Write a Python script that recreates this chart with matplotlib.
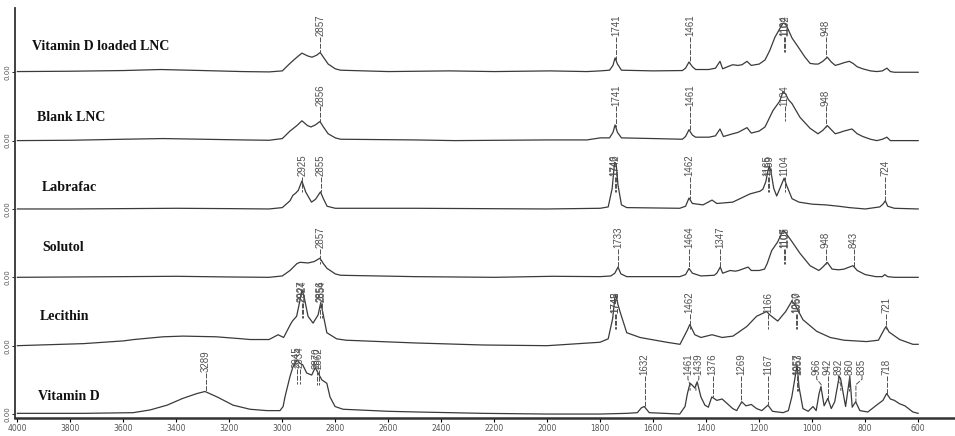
import numpy as np
import matplotlib.pyplot as plt

# FTIR spectra (wavenumber cm-1, absorbance above own baseline)
names = ["Vitamin D loaded LNC", "Blank LNC", "Labrafac", "Solutol", "Lecithin", "Vitamin D"]

vdlnc_wn = [4000, 3800, 3600, 3460, 3300, 3150, 3050, 3000, 2971, 2945, 2926, 2905, 2888, 2870, 2857,
            2845, 2827, 2800, 2780, 2600, 2370, 2200, 1990, 1850, 1800, 1765, 1752, 1744, 1735, 1720,
            1600, 1490, 1478, 1465, 1452, 1440, 1390, 1365, 1348, 1338, 1320, 1300, 1280, 1265, 1246,
            1230, 1200, 1178, 1160, 1141, 1122, 1110, 1100, 1090, 1076, 1053, 1027, 1008, 990, 977,
            960, 943, 928, 913, 895, 880, 860, 846, 830, 809, 780, 756, 735, 718, 705, 690, 600]
vdlnc_abs = [0.01, 0.015, 0.025, 0.04, 0.025, 0.01, 0.005, 0.02, 0.13, 0.22, 0.28, 0.24, 0.22, 0.25, 0.29,
             0.22, 0.12, 0.05, 0.03, 0.01, 0.02, 0.01, 0.02, 0.01, 0.02, 0.03, 0.1, 0.21, 0.12, 0.03,
             0.02, 0.025, 0.06, 0.15, 0.08, 0.04, 0.04, 0.06, 0.16, 0.05, 0.08, 0.11, 0.1, 0.11, 0.16,
             0.1, 0.12, 0.18, 0.32, 0.51, 0.64, 0.72, 0.7, 0.62, 0.5, 0.37, 0.22, 0.13, 0.12, 0.12,
             0.16, 0.22, 0.15, 0.1, 0.12, 0.14, 0.16, 0.13, 0.08, 0.05, 0.02, 0.01, 0.02, 0.06, 0.01, 0.0, 0.0]
vdlnc_peaks = [2857, 1741, 1461, 1106, 1101, 948]
vdlnc_labels = ["2857", "1741", "1461", "1104", "1102", "948"]

blank_wn = [4000, 3800, 3600, 3450, 3300, 3150, 3050, 3000, 2971, 2945, 2926, 2905, 2892, 2875, 2858,
            2845, 2827, 2800, 2780, 2500, 2350, 2000, 1850, 1800, 1765, 1752, 1744, 1735, 1720, 1600,
            1490, 1478, 1465, 1452, 1440, 1390, 1365, 1348, 1335, 1300, 1280, 1246, 1230, 1200, 1178,
            1148, 1122, 1110, 1100, 1090, 1076, 1046, 1008, 978, 960, 943, 913, 895, 880, 850, 830,
            809, 780, 756, 735, 718, 705, 600]
blank_abs = [0.0, 0.005, 0.02, 0.03, 0.02, 0.01, 0.005, 0.03, 0.14, 0.22, 0.29, 0.22, 0.2, 0.23, 0.28,
             0.2, 0.1, 0.04, 0.02, 0.01, 0.0, 0.01, 0.01, 0.04, 0.04, 0.12, 0.23, 0.12, 0.04, 0.03,
             0.02, 0.06, 0.16, 0.08, 0.05, 0.05, 0.07, 0.17, 0.06, 0.1, 0.12, 0.19, 0.11, 0.14, 0.2,
             0.44, 0.58, 0.72, 0.68, 0.6, 0.54, 0.34, 0.18, 0.1, 0.15, 0.22, 0.1, 0.12, 0.14, 0.17, 0.1,
             0.06, 0.02, 0.0, 0.02, 0.05, 0.0, 0.0]
blank_peaks = [2856, 1741, 1461, 1104, 948]
blank_labels = ["2856", "1741", "1461", "1104", "948"]

labra_wn = [4000, 3800, 3600, 3400, 3200, 3050, 3000, 2971, 2960, 2950, 2940, 2926, 2912, 2890, 2875,
            2856, 2845, 2831, 2800, 2500, 2000, 1800, 1770, 1755, 1746, 1740, 1733, 1720, 1700, 1500,
            1478, 1465, 1452, 1412, 1378, 1360, 1300, 1235, 1197, 1186, 1175, 1167, 1162, 1156, 1145,
            1134, 1122, 1106, 1095, 1076, 1050, 1000, 950, 900, 860, 800, 745, 733, 724, 715, 690, 600]
labra_abs = [0.0, 0.0, 0.005, 0.01, 0.005, 0.0, 0.02, 0.12, 0.2, 0.23, 0.27, 0.41, 0.25, 0.1, 0.14,
             0.25, 0.15, 0.04, 0.01, 0.01, 0.0, 0.01, 0.03, 0.3, 0.68, 0.66, 0.35, 0.06, 0.02, 0.01,
             0.04, 0.16, 0.08, 0.06, 0.13, 0.08, 0.1, 0.22, 0.26, 0.29, 0.4, 0.56, 0.63, 0.55, 0.3,
             0.19, 0.3, 0.45, 0.33, 0.15, 0.1, 0.07, 0.06, 0.04, 0.02, 0.0, 0.03, 0.07, 0.12, 0.04, 0.01, 0.0]
labra_peaks = [2925, 2855, 1746, 1742, 1462, 1168, 1162, 1104, 724]
labra_labels = ["2925", "2855", "1746", "1742", "1462", "1165", "1159", "1104", "724"]

solu_wn = [4000, 3800, 3600, 3400, 3200, 3050, 3000, 2971, 2945, 2933, 2903, 2880, 2858, 2845, 2831,
           2800, 2780, 2500, 2200, 1980, 1800, 1760, 1745, 1733, 1722, 1700, 1500, 1478, 1465, 1452,
           1420, 1370, 1360, 1347, 1338, 1310, 1290, 1278, 1242, 1230, 1200, 1180, 1170, 1153, 1130,
           1110, 1100, 1076, 1046, 1008, 975, 960, 943, 925, 900, 880, 860, 846, 830, 800, 760, 735,
           726, 715, 690, 600]
solu_abs = [0.0, 0.005, 0.01, 0.015, 0.005, 0.0, 0.02, 0.1, 0.2, 0.22, 0.21, 0.23, 0.28, 0.2, 0.13,
            0.05, 0.03, 0.01, 0.0, 0.015, 0.01, 0.02, 0.06, 0.15, 0.05, 0.01, 0.01, 0.04, 0.13, 0.06,
            0.02, 0.03, 0.06, 0.15, 0.06, 0.1, 0.09, 0.1, 0.15, 0.1, 0.1, 0.12, 0.2, 0.39, 0.52,
            0.69, 0.65, 0.52, 0.35, 0.17, 0.1, 0.15, 0.22, 0.12, 0.11, 0.12, 0.15, 0.17, 0.1, 0.04, 0.01, 0.01,
            0.04, 0.01, 0.0, 0.0]
solu_peaks = [2857, 1733, 1464, 1347, 1107, 1103, 948, 843]
solu_labels = ["2857", "1733", "1464", "1347", "1107", "1105", "948", "843"]

leci_wn = [4000, 3750, 3600, 3560, 3450, 3375, 3250, 3150, 3122, 3050, 3016, 2995, 2971, 2962, 2946,
           2933, 2926, 2918, 2903, 2884, 2865, 2855, 2848, 2832, 2795, 2760, 2500, 2242, 2000, 1801,
           1770, 1753, 1745, 1741, 1733, 1724, 1700, 1650, 1549, 1499, 1471, 1462, 1443, 1420, 1378,
           1340, 1299, 1247, 1210, 1172, 1160, 1130, 1100, 1077, 1065, 1035, 983, 932, 880, 795, 750,
           728, 721, 710, 670, 620, 600]
leci_abs = [0.0, 0.03, 0.07, 0.09, 0.13, 0.14, 0.13, 0.1, 0.09, 0.09, 0.16, 0.12, 0.3, 0.36, 0.43,
            0.67, 0.82, 0.72, 0.43, 0.33, 0.45, 0.63, 0.5, 0.19, 0.1, 0.08, 0.04, 0.01, 0.0, 0.05,
            0.1, 0.4, 0.7, 0.74, 0.6, 0.48, 0.19, 0.12, 0.05, 0.02, 0.23, 0.31, 0.16, 0.12, 0.16,
            0.12, 0.14, 0.28, 0.43, 0.5, 0.45, 0.36, 0.5, 0.65, 0.6, 0.38, 0.21, 0.12, 0.08, 0.06, 0.08,
            0.24, 0.28, 0.2, 0.09, 0.02, 0.02]
leci_peaks = [2927, 2923, 2856, 2852, 1745, 1742, 1462, 1166, 1060, 1056, 721]
leci_labels = ["2927", "2924", "2856", "2854", "1745", "1742", "1462", "1166", "1060", "1057", "721"]

vitd_wn = [4000, 3750, 3563, 3499, 3435, 3375, 3322, 3292, 3246, 3186, 3122, 3058, 3009, 2997, 2990,
           2971, 2960, 2944, 2933, 2923, 2908, 2889, 2876, 2865, 2851, 2832, 2820, 2801, 2771, 2600,
           2493, 2242, 2000, 1800, 1700, 1660, 1645, 1634, 1615, 1500, 1480, 1471, 1461, 1452, 1443,
           1434, 1420, 1405, 1392, 1379, 1360, 1340, 1320, 1300, 1285, 1266, 1250, 1230, 1210, 1190,
           1167, 1150, 1110, 1090, 1077, 1062, 1057, 1050, 1035, 1015, 997, 985, 974, 967, 955, 941,
           928, 915, 898, 893, 874, 858, 849, 836, 820, 790, 757, 733, 719, 705, 690, 670, 650, 620, 600]
vitd_abs = [0.01, 0.01, 0.02, 0.06, 0.13, 0.23, 0.3, 0.33, 0.25, 0.13, 0.07, 0.05, 0.05, 0.11, 0.25,
            0.55, 0.69, 0.79, 0.74, 0.72, 0.6, 0.57, 0.68, 0.6, 0.5, 0.45, 0.25, 0.11, 0.07, 0.04,
            0.03, 0.01, 0.0, 0.0, 0.01, 0.02, 0.09, 0.11, 0.02, 0.0, 0.11, 0.3, 0.45, 0.42, 0.38,
            0.47, 0.25, 0.13, 0.1, 0.25, 0.2, 0.22, 0.15, 0.08, 0.05, 0.18, 0.12, 0.14, 0.08, 0.05,
            0.13, 0.04, 0.02, 0.05, 0.25, 0.6, 0.72, 0.4, 0.08, 0.04, 0.11, 0.05, 0.3, 0.4, 0.12, 0.23,
            0.08, 0.18, 0.55, 0.52, 0.11, 0.55, 0.1, 0.18, 0.05, 0.03, 0.13, 0.2, 0.3, 0.22, 0.2, 0.15, 0.12, 0.03, 0.01]
vitd_peaks = [3289, 2945, 2934, 2870, 2862, 1632, 1461, 1439, 1376, 1269, 1167, 1057, 1053,
              966, 942, 892, 860, 835, 718]
vitd_labels = ["3289", "2945", "2934", "2870", "2862", "1632", "1461", "1439", "1376", "1269", "1167",
               "1057", "1053", "966", "942", "892", "860", "835", "718"]

xticks = list(range(4000, 599, -200))

traces = [
    (vdlnc_wn, vdlnc_abs, vdlnc_peaks, vdlnc_labels),
    (blank_wn, blank_abs, blank_peaks, blank_labels),
    (labra_wn, labra_abs, labra_peaks, labra_labels),
    (solu_wn, solu_abs, solu_peaks, solu_labels),
    (leci_wn, leci_abs, leci_peaks, leci_labels),
    (vitd_wn, vitd_abs, vitd_peaks, vitd_labels),
]

# layout: where the names and peak labels sit inside each trace's band
name_pos = [(3945, 0.37), (3926, 0.34), (3907, 0.31), (3907, 0.44), (3914, 0.42), (3922, 0.25)]
label_base = [0.52, 0.50, 0.47, 0.42, 0.47, 0.56]
label_high = {4: {"2927": 0.63, "2924": 0.63, "2856": 0.63, "2854": 0.63},
              5: {"3289": 0.6, "2945": 0.66, "2934": 0.66, "2870": 0.65, "2862": 0.65}}
label_shift = {5: {"966": 983, "892": 901, "835": 812, "1461": 1469, "1439": 1428}}

line_col = "#3a3a3a"
lab_col = "#505050"

fig = plt.figure(figsize=(9.55, 4.36), dpi=100)
ax = fig.add_axes([15 / 955, 18 / 436, 1 - 15 / 955, 410 / 436])

n = len(traces)
for i, (wn, ab, peaks, labels) in enumerate(traces):
    off = n - 1 - i
    wn = np.asarray(wn, float)
    ab = np.asarray(ab, float)
    ax.plot(wn, ab + off, color=line_col, lw=0.9)

    nx, ny = name_pos[i]
    ax.text(nx, off + ny, names[i], fontsize=10, fontweight="bold",
            family="Liberation Serif", ha="left", va="center", color="#111111")

    for p, lab in zip(peaks, labels):
        yb = label_high.get(i, {}).get(lab, label_base[i])
        wl = label_shift.get(i, {}).get(lab, p)
        yc = np.interp(p, wn[::-1], ab[::-1])
        yend = min(yc, yb - 0.22)
        if wl != p:
            xs = [wl, wl, p, p]
            ys = [yb, yb - 0.05, yb - 0.13, yend]
        else:
            xs = [p, p]
            ys = [yb, yend]
        ax.plot(xs, np.array(ys) + off, color=lab_col, lw=0.7, ls=(0, (5, 1.5)))
        ax.text(wl, off + yb + 0.01, lab, rotation=90, ha="center", va="bottom",
                fontsize=7, family="Liberation Sans", color=lab_col)

ax.set_xlim(4009, 461)
ax.set_ylim(-0.058, 5.94)
ax.set_xticks(xticks)
ax.set_xticklabels([str(t) for t in xticks])
ax.set_yticks(range(n))
ax.set_yticklabels(["0.00"] * n, rotation=90, va="center")
ax.tick_params(axis="x", labelsize=5.5, length=3, width=0.8, pad=1.5, labelcolor="#555555")
ax.tick_params(axis="y", labelsize=5, length=2, width=0.6, pad=1.5, labelcolor="#555555")
for s in ["top", "right"]:
    ax.spines[s].set_visible(False)
ax.spines["bottom"].set_linewidth(1.8)
ax.spines["left"].set_linewidth(1.3)
ax.spines["bottom"].set_color("#333333")
ax.spines["left"].set_color("#333333")

fig.savefig("out.png", dpi=100)
